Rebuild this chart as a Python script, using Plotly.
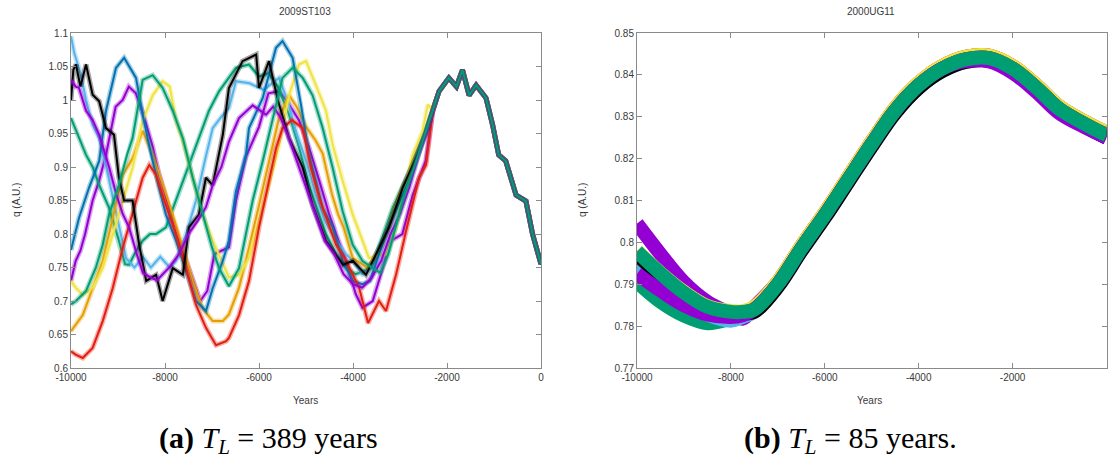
import plotly.graph_objects as go

# ---------------- Left panel: 2009ST103 (q vs years) ----------------
COLORS = {
    "purple": "#9400d3", "green": "#009e73", "lightblue": "#56b4e9", "orange": "#e69f00",
    "yellow": "#f0e442", "blue": "#0072b2", "red": "#e51e10", "black": "#000000",
}

# shared (converged) part near the present
TRUNK_YR = [-2300, -2170, -1960, -1800, -1670, -1530, -1380, -1170, -1030, -900, -750, -530, -320, -180, 0]
TRUNK_Q = [0.985, 1.013, 1.033, 1.02, 1.045, 1.007, 1.022, 1.003, 0.963, 0.918, 0.909, 0.858, 0.849, 0.80, 0.755]

PURPLE_A_YR = [-10000, -9900, -9800, -9700, -9540, -9400, -9250, -9050, -8900, -8770, -8620, -8470, -8260, -8130, -7920, -7770, -7550, -7340, -7250, -7100, -6950, -6800, -6640, -6490, -6280, -6000, -5800, -5575, -5420, -5150, -4940, -4720, -4510, -4360, -4150, -3940, -3800, -3580, -3370, -3190, -2950, -2730, -2450]
PURPLE_A_Q = [0.73, 0.76, 0.775, 0.80, 0.85, 0.88, 0.92, 0.99, 1.0, 1.02, 1.01, 0.98, 0.93, 0.89, 0.84, 0.80, 0.76, 0.72, 0.70, 0.715, 0.77, 0.775, 0.78, 0.85, 0.915, 0.96, 1.01, 1.013, 1.0, 0.97, 0.93, 0.88, 0.83, 0.80, 0.76, 0.71, 0.69, 0.70, 0.75, 0.79, 0.80, 0.858, 0.91]

GREEN_A_YR = [-10000, -9830, -9680, -9540, -9400, -9190, -8980, -8850, -8765, -8650, -8475, -8320, -8190, -7980, -7766, -7490, -7280, -7064, -6850, -6640, -6490, -6213, -6000, -5800, -5600, -5360, -5150, -4936, -4723, -4575, -4360, -4150, -3950, -3750, -3550, -3350, -3150, -2950, -2750, -2600, -2450]
GREEN_A_Q = [0.973, 0.943, 0.918, 0.90, 0.873, 0.839, 0.79, 0.755, 0.754, 0.77, 0.79, 0.80, 0.80, 0.81, 0.85, 0.903, 0.943, 0.984, 1.013, 1.033, 1.048, 1.053, 1.035, 1.04, 1.02, 0.978, 0.93, 0.873, 0.829, 0.80, 0.77, 0.749, 0.74, 0.745, 0.76, 0.80, 0.84, 0.87, 0.90, 0.93, 0.955]

LIGHTBLUE_YR = [-10000, -9930, -9800, -9680, -9540, -9400, -9250, -9100, -8950, -8830, -8650, -8470, -8300, -8100, -7900, -7770, -7550, -7340, -7150, -6985, -6800, -6640, -6490, -6200, -5900, -5575, -5400, -5200, -5000, -4800, -4600, -4360, -4150, -4000, -3800, -3600, -3450, -3234, -3000, -2800, -2600, -2450]
LIGHTBLUE_Q = [1.095, 1.07, 1.04, 1.0, 0.963, 0.943, 0.90, 0.85, 0.80, 0.764, 0.75, 0.766, 0.75, 0.766, 0.75, 0.76, 0.80, 0.85, 0.91, 0.958, 0.975, 0.988, 1.028, 1.025, 1.015, 1.033, 1.0, 0.95, 0.91, 0.86, 0.82, 0.79, 0.77, 0.76, 0.74, 0.75, 0.77, 0.81, 0.85, 0.88, 0.92, 0.955]

ORANGE_YR = [-10000, -9900, -9750, -9540, -9325, -9113, -8900, -8690, -8475, -8262, -8050, -7835, -7620, -7410, -7200, -6985, -6770, -6640, -6425, -6213, -6000, -5787, -5575, -5360, -5200, -5000, -4800, -4645, -4450, -4320, -4200, -4006, -3850, -3700, -3580, -3400, -3200, -3000, -2800, -2600, -2450]
ORANGE_Q = [0.655, 0.665, 0.679, 0.719, 0.76, 0.824, 0.888, 0.913, 0.954, 0.918, 0.873, 0.829, 0.779, 0.73, 0.689, 0.67, 0.67, 0.68, 0.72, 0.779, 0.843, 0.909, 0.973, 1.007, 0.99, 0.96, 0.94, 0.92, 0.86, 0.83, 0.81, 0.764, 0.757, 0.75, 0.76, 0.78, 0.82, 0.86, 0.89, 0.925, 0.955]

YELLOW_YR = [-10000, -9900, -9750, -9540, -9325, -9113, -8900, -8690, -8475, -8262, -8050, -7900, -7766, -7620, -7410, -7200, -6985, -6770, -6640, -6425, -6213, -6000, -5787, -5575, -5360, -5150, -5000, -4787, -4575, -4433, -4220, -4006, -3794, -3660, -3447, -3298, -3085, -2900, -2730, -2517, -2410]
YELLOW_Q = [0.73, 0.72, 0.709, 0.72, 0.749, 0.80, 0.85, 0.899, 0.969, 1.007, 1.028, 1.02, 0.969, 0.939, 0.884, 0.829, 0.79, 0.754, 0.735, 0.739, 0.764, 0.819, 0.873, 0.933, 1.007, 1.053, 1.058, 1.022, 0.984, 0.933, 0.879, 0.829, 0.79, 0.764, 0.769, 0.769, 0.81, 0.87, 0.918, 0.954, 0.993]

BLUE_YR = [-10000, -9830, -9617, -9400, -9255, -9043, -8870, -8617, -8475, -8300, -8128, -7980, -7766, -7553, -7340, -7128, -6985, -6770, -6640, -6490, -6277, -6213, -5920, -5638, -5500, -5285, -5100, -4936, -4645, -4433, -4220, -4000, -3800, -3640, -3450, -3250, -3000, -2800, -2600, -2450]
BLUE_Q = [0.776, 0.824, 0.869, 0.909, 0.984, 1.048, 1.063, 1.033, 0.978, 0.92, 0.869, 0.829, 0.79, 0.745, 0.70, 0.685, 0.719, 0.76, 0.79, 0.864, 0.918, 0.958, 1.003, 1.078, 1.088, 1.063, 0.99, 0.918, 0.839, 0.81, 0.76, 0.73, 0.725, 0.73, 0.77, 0.81, 0.85, 0.88, 0.92, 0.955]

RED_YR = [-10000, -9900, -9750, -9540, -9325, -9113, -8900, -8690, -8475, -8335, -8190, -7980, -7766, -7553, -7340, -7128, -6915, -6700, -6640, -6425, -6213, -6000, -5850, -5638, -5500, -5300, -5070, -4900, -4700, -4500, -4360, -4150, -3870, -3680, -3447, -3298, -3085, -2872, -2596, -2447]
RED_Q = [0.625, 0.62, 0.615, 0.63, 0.67, 0.719, 0.779, 0.829, 0.884, 0.903, 0.888, 0.843, 0.80, 0.749, 0.694, 0.66, 0.634, 0.64, 0.645, 0.679, 0.73, 0.81, 0.858, 0.928, 0.958, 0.97, 0.958, 0.90, 0.85, 0.81, 0.784, 0.76, 0.72, 0.667, 0.70, 0.685, 0.739, 0.804, 0.884, 0.903]

BLACK_YR = [-10000, -9950, -9894, -9800, -9680, -9540, -9400, -9255, -9085, -8980, -8870, -8690, -8550, -8400, -8190, -8050, -7835, -7620, -7490, -7280, -7130, -6985, -6770, -6640, -6350, -6060, -6000, -5787, -5600, -5360, -5070, -4860, -4575, -4215, -4006, -3723, -3447, -3234, -2943, -2596, -2450]
BLACK_Q = [1.0, 1.045, 1.053, 1.02, 1.053, 1.008, 0.998, 0.958, 0.948, 0.884, 0.85, 0.85, 0.784, 0.73, 0.739, 0.70, 0.749, 0.739, 0.81, 0.829, 0.884, 0.873, 0.948, 1.018, 1.058, 1.068, 1.018, 1.058, 1.0, 0.943, 0.899, 0.843, 0.79, 0.754, 0.76, 0.739, 0.779, 0.81, 0.869, 0.924, 0.95]

PURPLE_B_YR = [-10000, -9900, -9830, -9680, -9540, -9400, -9190, -9040, -8900, -8765, -8600, -8470, -8300, -8170, -7900, -7700, -7500, -7300, -7130, -6985, -6800, -6640, -6425, -6134, -5850, -5700, -5550, -5400, -5200, -5000, -4800, -4600, -4400, -4200, -4000, -3800, -3600, -3400, -3200, -3000, -2800, -2600, -2450]
PURPLE_B_Q = [1.03, 1.02, 1.018, 0.984, 0.97, 0.948, 0.90, 0.86, 0.83, 0.81, 0.77, 0.742, 0.735, 0.731, 0.751, 0.77, 0.80, 0.82, 0.84, 0.873, 0.90, 0.938, 0.973, 0.992, 0.978, 0.99, 0.975, 0.95, 0.91, 0.87, 0.83, 0.79, 0.77, 0.74, 0.725, 0.72, 0.735, 0.76, 0.80, 0.83, 0.87, 0.92, 0.95]

GREEN_B_YR = [-10000, -9894, -9680, -9470, -9325, -9190, -8980, -8800, -8690, -8550, -8475, -8262, -8050, -7835, -7620, -7410, -7200, -7000, -6850, -6640, -6425, -6280, -6134, -5920, -5710, -5500, -5285, -5070, -4860, -4645, -4433, -4220, -4006, -3800, -3600, -3420, -3250, -3070, -2900, -2700, -2450]
GREEN_B_Q = [0.695, 0.70, 0.715, 0.75, 0.784, 0.829, 0.873, 0.92, 0.943, 1.0, 1.03, 1.037, 1.018, 0.984, 0.943, 0.884, 0.829, 0.78, 0.749, 0.722, 0.749, 0.80, 0.85, 0.909, 0.969, 1.033, 1.048, 1.033, 1.007, 0.958, 0.899, 0.834, 0.784, 0.76, 0.75, 0.742, 0.77, 0.816, 0.86, 0.90, 0.955]

LEFT_SERIES = [
    ("purple", PURPLE_A_YR, PURPLE_A_Q),
    ("green", GREEN_A_YR, GREEN_A_Q),
    ("lightblue", LIGHTBLUE_YR, LIGHTBLUE_Q),
    ("orange", ORANGE_YR, ORANGE_Q),
    ("yellow", YELLOW_YR, YELLOW_Q),
    ("blue", BLUE_YR, BLUE_Q),
    ("red", RED_YR, RED_Q),
    ("black", BLACK_YR, BLACK_Q),
    ("purple", PURPLE_B_YR, PURPLE_B_Q),
    ("green", GREEN_B_YR, GREEN_B_Q),
]

# ---------------- Right panel: 2000UG11 ----------------
R_EARLY_YR = [-10000, -9500, -9000, -8500, -8000, -7750]
R_PURPLE_A = [0.8045, 0.7972, 0.7905, 0.7858, 0.7830, 0.7818]
R_GREEN_A = [0.7905, 0.7858, 0.7825, 0.7807, 0.7818, 0.7826]
R_LIGHTBLUE = [0.7950, 0.7900, 0.7858, 0.7828, 0.7813, 0.7822]
R_ORANGE = [0.7978, 0.7925, 0.7880, 0.7846, 0.7834, 0.7834]
R_YELLOW = [0.7980, 0.7927, 0.7882, 0.7848, 0.7836, 0.7836]
R_BLUE = [0.7972, 0.7920, 0.7875, 0.7842, 0.7830, 0.7832]
R_RED = [0.7974, 0.7922, 0.7877, 0.7843, 0.7831, 0.7833]
R_BLACK = [0.7971, 0.7919, 0.7874, 0.7840, 0.7829, 0.7830]
R_PURPLE_B = [0.7925, 0.7885, 0.7850, 0.7828, 0.7822, 0.7826]
R_GREEN_B = [0.7978, 0.7926, 0.7880, 0.7846, 0.7834, 0.7834]

R_TAIL_YR = [-7500, -7000, -6500, -6000, -5500, -5000, -4500, -4000, -3500, -3000, -2500, -2000, -1500, -1000, -500, 0]
R_TAIL_MID = [0.7840, 0.7900, 0.7985, 0.8065, 0.8150, 0.8235, 0.8315, 0.8375, 0.8415, 0.8437, 0.8440, 0.8415, 0.8370, 0.8318, 0.8285, 0.8256]
R_TAIL_UP = [0.7846, 0.7906, 0.7991, 0.8071, 0.8156, 0.8241, 0.8321, 0.8381, 0.8421, 0.8443, 0.8446, 0.8421, 0.8376, 0.8324, 0.8291, 0.8262]
R_TAIL_DOWN = [0.7834, 0.7894, 0.7979, 0.8059, 0.8144, 0.8229, 0.8309, 0.8369, 0.8409, 0.8431, 0.8434, 0.8409, 0.8364, 0.8312, 0.8279, 0.8250]
R_TAIL_PB = [0.7840, 0.7900, 0.7985, 0.8065, 0.8150, 0.8235, 0.8315, 0.8375, 0.8415, 0.8433, 0.8432, 0.8405, 0.8360, 0.8308, 0.8277, 0.8250]

RIGHT_SERIES = [
    ("purple", R_PURPLE_A, R_TAIL_UP),
    ("green", R_GREEN_A, R_TAIL_MID),
    ("lightblue", R_LIGHTBLUE, R_TAIL_DOWN),
    ("orange", R_ORANGE, R_TAIL_UP),
    ("yellow", R_YELLOW, R_TAIL_UP),
    ("blue", R_BLUE, R_TAIL_MID),
    ("red", R_RED, R_TAIL_MID),
    ("black", R_BLACK, R_TAIL_DOWN),
    ("purple", R_PURPLE_B, R_TAIL_PB),
    ("green", R_GREEN_B, R_TAIL_MID),
]

X_TICKS = [-10000, -8000, -6000, -4000, -2000, 0]
X_TICKTEXT = ["-10000", "-8000", "-6000", "-4000", "-2000", "0"]
L_YTICKS = [0.6, 0.65, 0.7, 0.75, 0.8, 0.85, 0.9, 0.95, 1.0, 1.05, 1.1]
L_YTICKTEXT = ["0.6", "0.65", "0.7", "0.75", "0.8", "0.85", "0.9", "0.95", "1", "1.05", "1.1"]
R_YTICKS = [0.77, 0.78, 0.79, 0.80, 0.81, 0.82, 0.83, 0.84, 0.85]
R_YTICKTEXT = ["0.77", "0.78", "0.79", "0.8", "0.81", "0.82", "0.83", "0.84", "0.85"]

# the page's body margin is removed in post_script, so the figure fills the window
W, H = 1108, 464


def px(x):
    return x / W


def py(y):
    return 1 - y / H


fig = go.Figure()

for cname, yr, q in LEFT_SERIES:
    if yr[-1] < TRUNK_YR[0]:
        xs = yr + TRUNK_YR
        ys = q + TRUNK_Q
    else:
        xs, ys = yr, q
    fig.add_trace(go.Scatter(x=xs, y=ys, mode="lines", xaxis="x", yaxis="y",
                             line=dict(color=COLORS[cname], width=5), opacity=0.35,
                             showlegend=False, hoverinfo="skip"))
    fig.add_trace(go.Scatter(x=xs, y=ys, mode="lines", xaxis="x", yaxis="y",
                             line=dict(color=COLORS[cname], width=2), showlegend=False,
                             hoverinfo="skip"))

for cname, early, tail in RIGHT_SERIES:
    fig.add_trace(go.Scatter(x=R_EARLY_YR + R_TAIL_YR, y=early + tail, mode="lines",
                             xaxis="x2", yaxis="y2",
                             line=dict(color=COLORS[cname], width=14, shape="spline"),
                             showlegend=False, hoverinfo="skip"))

FRAME = "#8a8a8a"
TICKFONT = dict(family="Liberation Sans, Arial, sans-serif", size=10, color="#3a3a3a")
common_axis = dict(showline=True, linecolor=FRAME, linewidth=1, mirror="ticks", ticks="inside",
                   ticklen=5, tickcolor=FRAME, tickwidth=1, showgrid=False, zeroline=False,
                   tickfont=TICKFONT, automargin=False)

fig.update_layout(
    width=W, height=H, margin=dict(l=0, r=0, t=0, b=0, autoexpand=False),
    paper_bgcolor="white", plot_bgcolor="white",
    xaxis=dict(domain=[px(71), px(541)], range=[-10000, 0], anchor="y",
               tickvals=X_TICKS, ticktext=X_TICKTEXT, **common_axis),
    yaxis=dict(domain=[py(368), py(33)], range=[0.6, 1.1], anchor="x",
               tickvals=L_YTICKS, ticktext=L_YTICKTEXT, **common_axis),
    xaxis2=dict(domain=[px(637), px(1106.5)], range=[-10000, 0], anchor="y2",
                tickvals=X_TICKS, ticktext=X_TICKTEXT, **common_axis),
    yaxis2=dict(domain=[py(368), py(33)], range=[0.77, 0.85], anchor="x2",
                tickvals=R_YTICKS, ticktext=R_YTICKTEXT, **common_axis),
)

LABELFONT = dict(family="Liberation Sans, Arial, sans-serif", size=10, color="#3a3a3a")
ann = [
    dict(text="2009ST103", x=px(305), y=py(12)),
    dict(text="2000UG11", x=px(871), y=py(12)),
    dict(text="Years", x=px(305), y=py(400)),
    dict(text="Years", x=px(870), y=py(400)),
    dict(text="q (A.U.)", x=px(16), y=py(200), textangle=-90),
    dict(text="q (A.U.)", x=px(582), y=py(200), textangle=-90),
]
for a in ann:
    fig.add_annotation(xref="paper", yref="paper", showarrow=False, xanchor="center",
                       yanchor="middle", font=LABELFONT, **a)

CAPFONT = dict(family="Liberation Serif, DejaVu Serif, serif", size=30, color="#000000")
fig.add_annotation(xref="paper", yref="paper", showarrow=False, x=px(268), y=py(440),
                   xanchor="center", yanchor="middle", font=CAPFONT,
                   text="<b>(a)</b> <i>T</i><sub><i>L</i></sub> = 389 years")
fig.add_annotation(xref="paper", yref="paper", showarrow=False, x=px(850), y=py(440),
                   xanchor="center", yanchor="middle", font=CAPFONT,
                   text="<b>(b)</b> <i>T</i><sub><i>L</i></sub> = 85 years.")

fig.write_html(
    "out.html",
    config={"displayModeBar": False},
    post_script="document.body.style.margin='0';document.body.style.overflow='hidden';",
)
